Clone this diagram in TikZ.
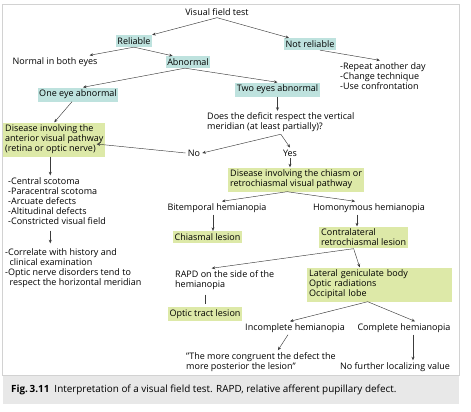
\documentclass[tikz,border=0pt]{standalone}
\usepackage{fontspec}
\setmainfont{Open Sans}
\usetikzlibrary{arrows.meta,positioning}
\definecolor{tealbox}{RGB}{190,226,222}
\definecolor{limebox}{RGB}{221,233,168}
\definecolor{linegray}{RGB}{60,60,60}
\begin{document}
\begin{tikzpicture}[x=1pt,y=-1pt,
	every node/.style={font=\fontsize{9}{10}\selectfont,inner sep=2pt},
	tbox/.style={fill=tealbox,inner xsep=1.5pt,inner ysep=2.5pt},
	gbox/.style={fill=limebox,inner xsep=2pt,inner ysep=2.5pt,align=left},
	lst/.style={align=left,anchor=west},
	arr/.style={draw=linegray,line width=.45pt,-{Stealth[length=3.5pt,width=3pt]}}]
			    \useasboundingbox (0,0) rectangle (471,412);
			    \draw [gray!35,line width=.8pt] (2,4) rectangle (459,375);
			    \fill [gray!18] (3,375.5) rectangle (459,404);
			    \node (vft) at (217,12) {Visual field test};
			    \node [tbox] (rel) at (134,41) {Reliable};
			    \node [tbox] (nrel) at (310,44) {Not reliable};
			    \node (norm) at (55,62) {Normal in both eyes};
			    \node [tbox] (abn) at (188,62) {Abnormal};
			    \node [lst] (rep) at (338,76) {-Repeat another day\\-Change technique\\-Use confrontation};
			    \node [tbox] (one) at (78,94.5) {One eye abnormal};
			    \node [tbox] (two) at (277.5,89.5) {Two eyes abnormal};
			    \node [lst] (does) at (205,122.5) {Does the deficit respect the vertical\\meridian (at least partially)?};
			    \node [gbox,anchor=west] (disA) at (3,139.5) {Disease involving the\\anterior visual pathway\\(retina or optic nerve)};
			    \node (no) at (194,153) {No};
			    \node (yes) at (290,153) {Yes};
			    \node [gbox,anchor=west] (disC) at (228,179.5) {Disease involving the chiasm or\\retrochiasmal visual pathway};
			    \node [lst] (scot) at (6,201) {-Central scotoma\\-Paracentral scotoma\\-Arcuate defects\\-Altitudinal defects\\-Constricted visual field};
			    \node [lst] (corr) at (3,268) {-Correlate with history and\\\hphantom{-}\,clinical examination\\-Optic nerve disorders tend to\\\hphantom{-}\,respect the horizontal meridian};
			    \node (bit) at (217,208) {Bitemporal hemianopia};
			    \node (hom) at (369,208) {Homonymous hemianopia};
			    \node [gbox] (chi) at (207.5,237) {Chiasmal lesion};
			    \node [gbox,anchor=west] (con) at (319,237.5) {Contralateral\\retrochiasmal lesion};
			    \node [lst] (rapd) at (173,280) {RAPD on the side of the\\hemianopia};
			    \node [gbox,anchor=west,text width=141pt] (lat) at (307,284.5) {Lateral geniculate body\\Optic radiations\\Occipital lobe};
			    \node [gbox] (otl) at (205,314) {Optic tract lesion};
			    \node (inc) at (295,328) {Incomplete hemianopia};
			    \node (com) at (404,328) {Complete hemianopia};
			    \node [lst] (cong) at (184,362) {"The more congruent the defect the\\more posterior the lesion"};
			    \node (nofur) at (395,367) {No further localizing value};
			    \node [anchor=west,font=\fontsize{9.9}{11}\selectfont] (cap) at (9,389.5) {\textbf{Fig.\,3.11}\hspace{5pt}Interpretation of a visual field test. RAPD, relative afferent pupillary defect.};
			    \draw [arr] (vft.south) -- (rel.north east);
			    \draw [arr] (vft.south) -- ([xshift=5pt]nrel.north west);
			    \draw [arr] (rel.south) -- ([xshift=-10pt]norm.north east);
			    \draw [arr] (rel.south) -- ([xshift=7pt]abn.north west);
			    \draw [arr] ([xshift=10pt]nrel.south) -- ([xshift=-3pt]rep.north);
			    \draw [arr] ([xshift=-3pt]abn.south) -- ([xshift=5pt]one.north);
			    \draw [arr] ([xshift=-3pt]abn.south) -- (two.north);
			    \draw [arr] (two.south) -- (two.south |- does.north);
			    \draw [arr] ([xshift=-6pt]one.south) -- (disA.north);
			    \draw [arr] (does.south) -- (no.east);
			    \draw [arr] (does.south) -- (yes.north);
			    \draw [arr] (no.west) -- ([xshift=-9pt,yshift=-4.5pt]disA.east);
			    \draw [arr] (yes.south) -- (yes.south |- disC.north);
			    \draw [arr] ([xshift=-4pt]disA.south) -- ([xshift=-4pt]disA.south |- scot.north);
			    \draw [arr,shorten <=4pt,shorten >=3pt] ([xshift=-4pt]disA.south |- scot.south) -- ([xshift=-4pt]disA.south |- corr.north);
			    \draw [arr] ([xshift=-9pt]disC.south) -- ([xshift=5pt]bit.north);
			    \draw [arr] ([xshift=-9pt]disC.south) -- ([xshift=-14pt]hom.north);
			    \draw [arr] ([xshift=-4pt]bit.south) -- ([xshift=-4pt]bit.south |- chi.north);
			    \draw [arr] ([xshift=-12pt]hom.south) -- ([xshift=-12pt]hom.south |- con.north);
			    \draw [arr] ([xshift=-10pt]con.south) -- ([xshift=-13pt]rapd.north);
			    \draw [arr] ([xshift=-10pt]con.south) -- ([xshift=-20pt]lat.north);
			    \draw [draw=linegray,line width=.45pt,shorten <=3pt,shorten >=3pt] (otl.north |- rapd.south) -- (otl.north);
			    \draw [arr] ([xshift=-12pt]lat.south) -- ([xshift=-5pt]inc.north);
			    \draw [arr] ([xshift=-12pt]lat.south) -- ([xshift=11pt]com.north);
			    \draw [arr] ([xshift=-7pt]inc.south) -- ([xshift=17pt]cong.north);
			    \draw [arr] ([xshift=9pt]com.south) -- ([xshift=9pt]com.south |- nofur.north);
			\end{tikzpicture}
\end{document}
